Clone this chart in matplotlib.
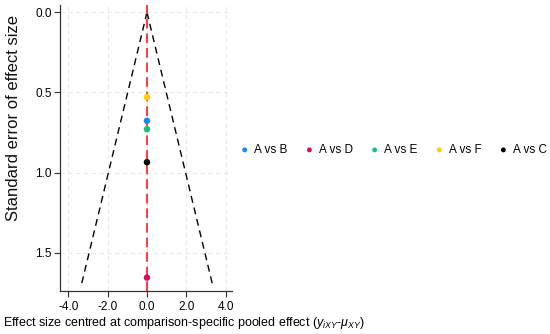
import numpy as np
import matplotlib
matplotlib.use("Agg")
import matplotlib.pyplot as plt

plt.rcParams['font.family'] = ['Liberation Sans', 'DejaVu Sans']
plt.rcParams['mathtext.fontset'] = 'custom'
plt.rcParams['mathtext.rm'] = 'Liberation Sans'
plt.rcParams['mathtext.it'] = 'Liberation Sans:italic'

# comparisons and their standard errors (centred effect = 0)
labels = ['A vs B', 'A vs D', 'A vs E', 'A vs F', 'A vs C']
colors = ['#1a85ff', '#d41159', '#1cbf7e', '#ffd000', '#000000']
centred = [0.0, 0.0, 0.0, 0.0, 0.0]
se = [0.677, 1.655, 0.729, 0.529, 0.935]

se_max = 1.71
xticks = [-4.0, -2.0, 0.0, 2.0, 4.0]
yticks = [0.0, 0.5, 1.0, 1.5]

fig = plt.figure(figsize=(5.5, 3.34), dpi=100)
W, H = 550, 334
ax = fig.add_axes([60/W, 1 - 291/H, 172/W, 286/H])

s = np.array([0, se_max])
ax.plot(-1.96 * s, s, color='black', ls=(0, (5, 3.5)), lw=1.0)
ax.plot(1.96 * s, s, color='black', ls=(0, (5, 3.5)), lw=1.0)
ax.axvline(0, color='#ff3b3b', ls=(0, (5, 2.5)), lw=1.4, zorder=2)

for x, y, c, l in zip(centred, se, colors, labels):
    ax.scatter(x, y, s=22, color=c, label=l, zorder=3, edgecolors='none')

ax.set_xlim(-4.42, 4.32)
ax.set_ylim(1.739, -0.046)
ax.set_xticks(xticks)
ax.set_xticklabels(['%.1f' % t for t in xticks])
ax.set_yticks(yticks)
ax.set_yticklabels(['%.1f' % t for t in yticks])
ax.tick_params(labelsize=8.5, length=4.5, width=0.8, color='#333333')
ax.tick_params(axis='y', pad=1.5)
ax.tick_params(axis='x', pad=2.5)
ax.grid(True, color='#e8e8e8', ls=(0, (4, 3)), lw=0.8)
ax.set_axisbelow(True)
for sp in ['top', 'right']:
    ax.spines[sp].set_visible(False)
for sp in ['left', 'bottom']:
    ax.spines[sp].set_color('#333333')
    ax.spines[sp].set_linewidth(0.9)

ax.set_ylabel('Standard error of effect size', fontsize=12, color='#111111')
ax.yaxis.set_label_coords(-0.227, 0.605)
fig.text(3/W, 1 - 331/H, 'Effect size centred at comparison-specific pooled effect ($y_{iXY}$-$\\mu_{XY}$)',
         fontsize=9, ha='left', va='bottom')

fig.legend(loc='center left', bbox_to_anchor=(240/W, 1 - 150/H), ncol=5, frameon=False,
           fontsize=8.5, handlelength=0.8, handletextpad=0.4, columnspacing=1.45,
           borderpad=0, borderaxespad=0, markerscale=0.75)

fig.savefig('out.png', dpi=100)
